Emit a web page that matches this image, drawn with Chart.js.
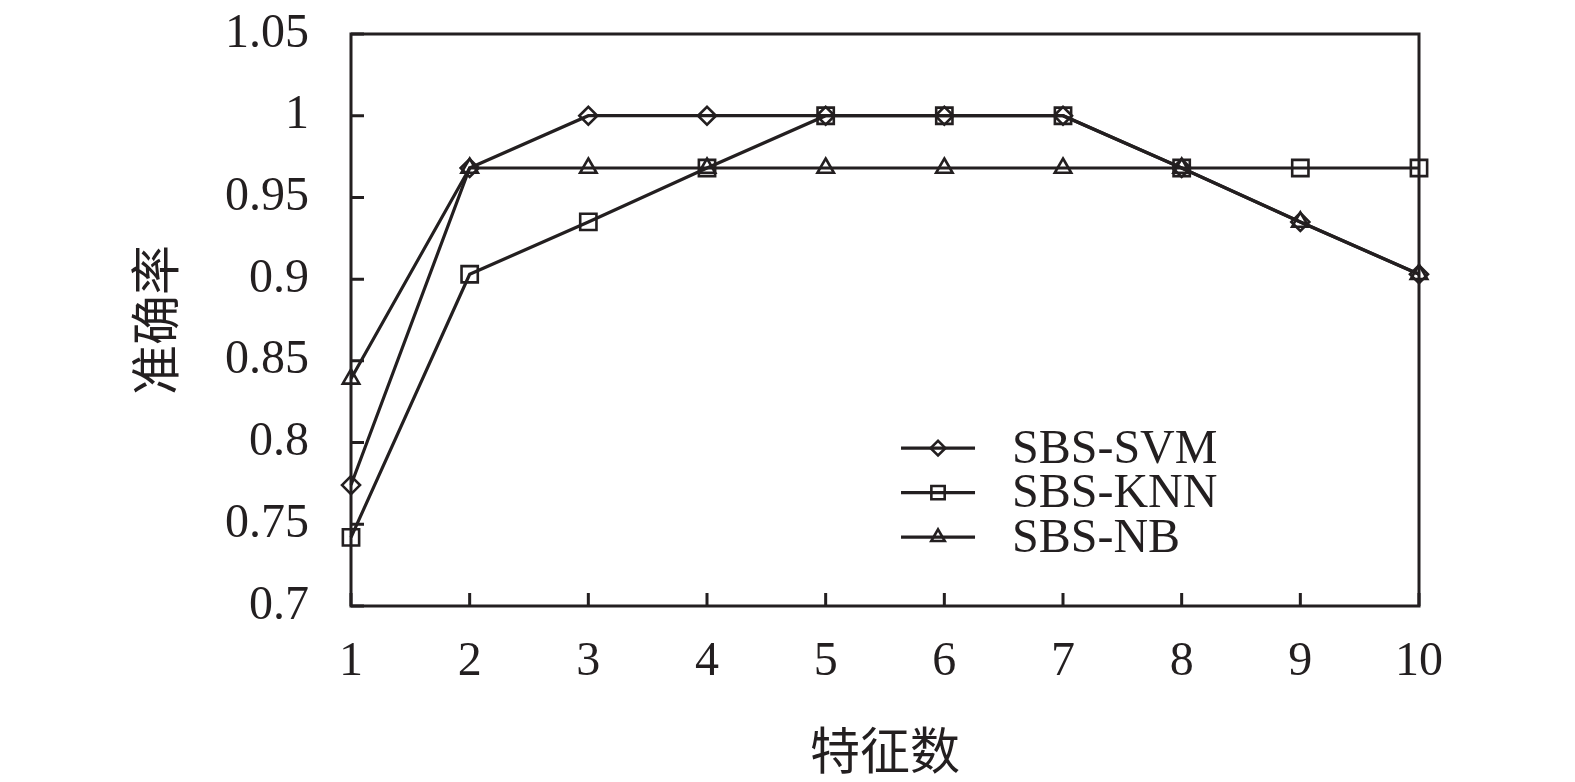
<!DOCTYPE html>
<html>
<head>
<meta charset="utf-8">
<script src="https://cdn.jsdelivr.net/npm/chart.js@4/dist/chart.umd.min.js"></script>
<style>
  html, body { margin: 0; padding: 0; background: #fff; }
  #wrap { width: 1575px; height: 782px; }
</style>
</head>
<body>
<div id="wrap"><canvas id="myChart" width="1575" height="782"></canvas></div>
<script>
const featureCounts = ['1', '2', '3', '4', '5', '6', '7', '8', '9', '10'];
const svmAcc = [0.774, 0.968, 1, 1, 1, 1, 1, 0.968, 0.935, 0.903];
const knnAcc = [0.742, 0.903, 0.935, 0.968, 1, 1, 1, 0.968, 0.968, 0.968];
const nbAcc = [0.839, 0.968, 0.968, 0.968, 0.968, 0.968, 0.968, 0.968, 0.935, 0.903];
const yTicks = [0.7, 0.75, 0.8, 0.85, 0.9, 0.95, 1, 1.05];

const ink = '#231f20';
const serif = '"Liberation Serif", "Times New Roman", serif';
const cjk = '"Noto Sans CJK SC", sans-serif';

// box around the plot + inward tick marks, legend inside the plot
const framePlugin = {
    id: 'frame',
    afterDatasetsDraw(chart) {
        const ctx = chart.ctx;
        const a = chart.chartArea;
        const xs = chart.scales.x;
        const ys = chart.scales.y;
        ctx.save();
        ctx.strokeStyle = ink;
        ctx.lineWidth = 3;
        ctx.strokeRect(a.left, a.top, a.right - a.left, a.bottom - a.top);
        ctx.beginPath();
        yTicks.forEach(v => {
            const py = ys.getPixelForValue(v);
            ctx.moveTo(a.left, py);
            ctx.lineTo(a.left + 13, py);
        });
        featureCounts.forEach((c, i) => {
            const px = xs.getPixelForValue(i);
            ctx.moveTo(px, a.bottom);
            ctx.lineTo(px, a.bottom - 13);
        });
        ctx.stroke();

        // legend
        const lx0 = a.left + (a.right - a.left) * 0.515;
        const lx1 = lx0 + 74;
        const tx = lx0 + 111;
        const y0 = a.top + (a.bottom - a.top) * 0.724;
        chart.data.datasets.forEach((ds, i) => {
            const yy = y0 + i * 44.5;
            ctx.strokeStyle = ink;
            ctx.lineWidth = 3.2;
            ctx.beginPath();
            ctx.moveTo(lx0, yy);
            ctx.lineTo(lx1, yy);
            ctx.stroke();
            ctx.lineWidth = 2.6;
            ctx.fillStyle = 'rgba(255,255,255,0)';
            Chart.helpers.drawPoint(ctx, {
                pointStyle: ds.pointStyle,
                radius: ds.pointRadius * 0.82,
                rotation: 0,
                borderWidth: 2.6
            }, (lx0 + lx1) / 2, yy);
            ctx.fillStyle = ink;
            ctx.font = '48px ' + serif;
            ctx.textAlign = 'left';
            ctx.textBaseline = 'middle';
            ctx.fillText(ds.label, tx, yy + 2);
        });
        ctx.restore();
    }
};

const mkSet = (label, data, style, r) => ({
    label: label,
    data: data,
    borderColor: ink,
    borderWidth: 3.2,
    pointStyle: style,
    pointRadius: r,
    pointBorderWidth: 2.6,
    pointBorderColor: ink,
    pointBackgroundColor: 'rgba(255,255,255,0)',
    tension: 0
});

new Chart(document.getElementById('myChart').getContext('2d'), {
    type: 'line',
    data: {
        labels: featureCounts,
        datasets: [
            mkSet('SBS-SVM', svmAcc, 'rectRot', 9),
            mkSet('SBS-KNN', knnAcc, 'rect', 11.5),
            mkSet('SBS-NB', nbAcc, 'triangle', 9.5)
        ]
    },
    options: {
        responsive: false,
        animation: false,
        layout: { padding: { top: 34, right: 156, left: 0, bottom: 0 } },
        plugins: {
            legend: { display: false },
            tooltip: { enabled: false }
        },
        scales: {
            x: {
                offset: false,
                grid: { display: false, drawTicks: false },
                border: { display: false },
                ticks: {
                    color: ink,
                    font: { family: serif, size: 48 },
                    padding: 28,
                    maxRotation: 0,
                    autoSkip: false
                },
                title: {
                    display: true,
                    text: '特征数',
                    color: ink,
                    font: { family: cjk, size: 50 },
                    padding: { top: 0, bottom: 2 }
                },
                afterFit: s => { s.height = 176; s.paddingLeft = 0; s.paddingRight = 0; }
            },
            y: {
                min: 0.7,
                max: 1.05,
                afterBuildTicks: s => { s.ticks = yTicks.map(v => ({ value: v })); },
                grid: { display: false, drawTicks: false },
                border: { display: false },
                ticks: {
                    color: ink,
                    font: { family: serif, size: 48 },
                    padding: 42,
                    callback: v => String(Number(v.toFixed(2)))
                },
                title: {
                    display: true,
                    text: '准确率',
                    color: ink,
                    font: { family: cjk, size: 50 },
                    padding: { top: 125, bottom: 0 }
                },
                afterFit: s => { s.width = 351; s.paddingTop = 0; s.paddingBottom = 0; }
            }
        }
    },
    plugins: [framePlugin]
});
</script>
</body>
</html>
